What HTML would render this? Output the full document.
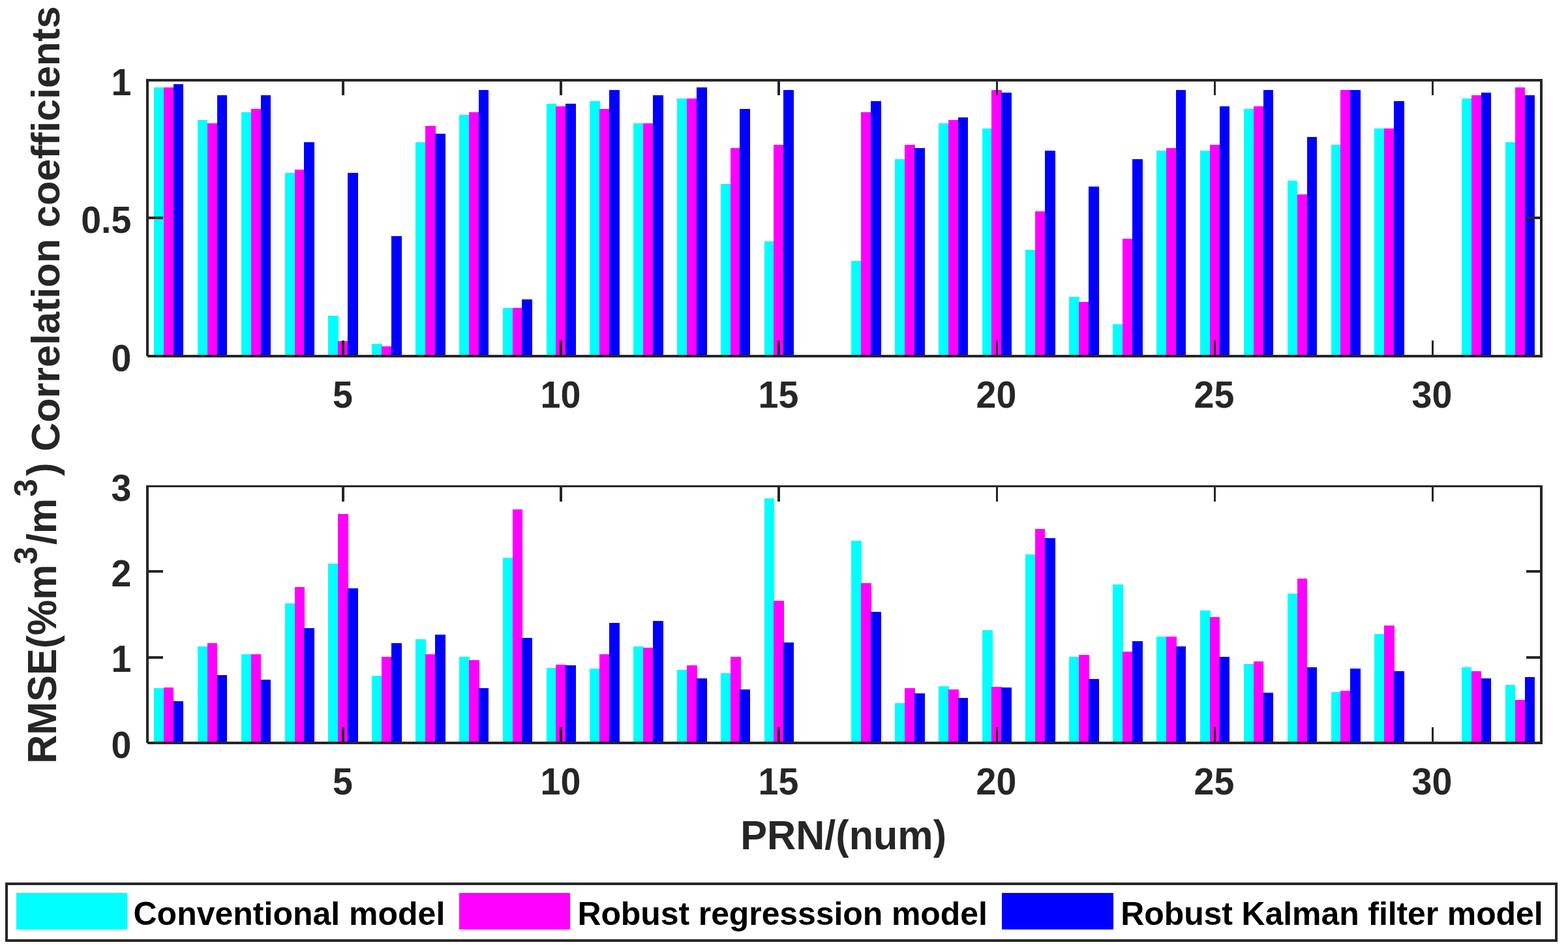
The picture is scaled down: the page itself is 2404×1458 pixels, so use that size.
<!DOCTYPE html>
<html lang="en"><head><meta charset="utf-8"><title>Correlation coefficients and RMSE per PRN</title>
<style>html,body{margin:0;padding:0;background:#fff;overflow:hidden}svg{display:block}text{font-family:"Liberation Sans",Arial,Helvetica,sans-serif;font-weight:bold;font-kerning:none;font-variant-ligatures:none;white-space:pre}.t{font-size:55.56px;fill:#262626}.l{font-size:61.11px;fill:#262626}.g{font-size:50px;fill:#000}</style></head><body>
<svg width="2404" height="1458" viewBox="0 0 2404 1458">
<rect x="0" y="0" width="2404" height="1458" fill="#fff"/>
<g fill="#00ffff" shape-rendering="crispEdges">
<rect x="236" y="134" width="15" height="410"/>
<rect x="303" y="184" width="15" height="360"/>
<rect x="370" y="172" width="15" height="372"/>
<rect x="437" y="265" width="15" height="279"/>
<rect x="503" y="484" width="16" height="60"/>
<rect x="570" y="527" width="16" height="17"/>
<rect x="637" y="218" width="16" height="326"/>
<rect x="704" y="176" width="16" height="368"/>
<rect x="771" y="472" width="15" height="72"/>
<rect x="838" y="159" width="15" height="385"/>
<rect x="904" y="155" width="16" height="389"/>
<rect x="971" y="189" width="16" height="355"/>
<rect x="1038" y="151" width="15" height="393"/>
<rect x="1105" y="282" width="15" height="262"/>
<rect x="1172" y="370" width="15" height="174"/>
<rect x="1305" y="400" width="16" height="144"/>
<rect x="1372" y="244" width="15" height="300"/>
<rect x="1439" y="189" width="16" height="355"/>
<rect x="1506" y="197" width="16" height="347"/>
<rect x="1572" y="383" width="15" height="161"/>
<rect x="1639" y="455" width="16" height="89"/>
<rect x="1706" y="497" width="16" height="47"/>
<rect x="1773" y="231" width="15" height="313"/>
<rect x="1840" y="231" width="16" height="313"/>
<rect x="1907" y="167" width="15" height="377"/>
<rect x="1974" y="277" width="15" height="267"/>
<rect x="2041" y="222" width="14" height="322"/>
<rect x="2107" y="197" width="15" height="347"/>
<rect x="2241" y="151" width="15" height="393"/>
<rect x="2308" y="218" width="15" height="326"/>
</g>
<g fill="#ff00ff" shape-rendering="crispEdges">
<rect x="251" y="134" width="15" height="410"/>
<rect x="318" y="189" width="15" height="355"/>
<rect x="385" y="167" width="15" height="377"/>
<rect x="452" y="260" width="15" height="284"/>
<rect x="518" y="523" width="16" height="21"/>
<rect x="585" y="531" width="15" height="13"/>
<rect x="652" y="193" width="16" height="351"/>
<rect x="719" y="172" width="16" height="372"/>
<rect x="786" y="472" width="15" height="72"/>
<rect x="852" y="163" width="16" height="381"/>
<rect x="919" y="167" width="15" height="377"/>
<rect x="986" y="189" width="15" height="355"/>
<rect x="1053" y="151" width="16" height="393"/>
<rect x="1120" y="227" width="16" height="317"/>
<rect x="1186" y="222" width="16" height="322"/>
<rect x="1320" y="172" width="16" height="372"/>
<rect x="1387" y="222" width="16" height="322"/>
<rect x="1454" y="184" width="16" height="360"/>
<rect x="1520" y="138" width="16" height="406"/>
<rect x="1587" y="324" width="15" height="220"/>
<rect x="1654" y="463" width="16" height="81"/>
<rect x="1721" y="366" width="15" height="178"/>
<rect x="1788" y="227" width="16" height="317"/>
<rect x="1855" y="222" width="15" height="322"/>
<rect x="1922" y="163" width="15" height="381"/>
<rect x="1989" y="298" width="15" height="246"/>
<rect x="2055" y="138" width="15" height="406"/>
<rect x="2122" y="197" width="16" height="347"/>
<rect x="2256" y="146" width="15" height="398"/>
<rect x="2323" y="134" width="15" height="410"/>
</g>
<g fill="#0000ff" shape-rendering="crispEdges">
<rect x="266" y="129" width="15" height="415"/>
<rect x="333" y="146" width="15" height="398"/>
<rect x="400" y="146" width="15" height="398"/>
<rect x="466" y="218" width="16" height="326"/>
<rect x="533" y="265" width="16" height="279"/>
<rect x="600" y="362" width="16" height="182"/>
<rect x="667" y="205" width="16" height="339"/>
<rect x="734" y="138" width="15" height="406"/>
<rect x="800" y="459" width="16" height="85"/>
<rect x="867" y="159" width="16" height="385"/>
<rect x="934" y="138" width="16" height="406"/>
<rect x="1001" y="146" width="16" height="398"/>
<rect x="1068" y="134" width="16" height="410"/>
<rect x="1134" y="167" width="16" height="377"/>
<rect x="1201" y="138" width="16" height="406"/>
<rect x="1335" y="155" width="16" height="389"/>
<rect x="1402" y="227" width="16" height="317"/>
<rect x="1469" y="180" width="15" height="364"/>
<rect x="1535" y="142" width="16" height="402"/>
<rect x="1602" y="231" width="16" height="313"/>
<rect x="1669" y="286" width="16" height="258"/>
<rect x="1736" y="244" width="16" height="300"/>
<rect x="1803" y="138" width="15" height="406"/>
<rect x="1870" y="163" width="15" height="381"/>
<rect x="1937" y="138" width="15" height="406"/>
<rect x="2004" y="210" width="15" height="334"/>
<rect x="2070" y="138" width="16" height="406"/>
<rect x="2137" y="155" width="16" height="389"/>
<rect x="2271" y="142" width="15" height="402"/>
<rect x="2338" y="146" width="15" height="398"/>
</g>
<g fill="#262626" shape-rendering="crispEdges">
<rect x="224" y="121" width="2141" height="4"/>
<rect x="226" y="544" width="2139" height="4"/>
<rect x="224" y="121" width="4" height="425"/>
<rect x="2361" y="121" width="4" height="427"/>
<rect x="524" y="125" width="4" height="21"/>
<rect x="524" y="522" width="4" height="22"/>
<rect x="858" y="125" width="4" height="21"/>
<rect x="858" y="522" width="4" height="22"/>
<rect x="1192" y="125" width="4" height="21"/>
<rect x="1192" y="522" width="4" height="22"/>
<rect x="1527" y="125" width="3" height="21"/>
<rect x="1527" y="522" width="3" height="22"/>
<rect x="1861" y="125" width="3" height="21"/>
<rect x="1861" y="522" width="3" height="22"/>
<rect x="2195" y="125" width="3" height="21"/>
<rect x="2195" y="522" width="3" height="22"/>
<rect x="228" y="332" width="22" height="4"/>
<rect x="2340" y="332" width="21" height="4"/>
</g>
<g fill="#00ffff" shape-rendering="crispEdges">
<rect x="236" y="1055" width="15" height="82"/>
<rect x="303" y="991" width="15" height="146"/>
<rect x="370" y="1003" width="15" height="134"/>
<rect x="437" y="925" width="15" height="212"/>
<rect x="503" y="864" width="16" height="273"/>
<rect x="570" y="1036" width="16" height="101"/>
<rect x="637" y="980" width="16" height="157"/>
<rect x="704" y="1007" width="16" height="130"/>
<rect x="771" y="855" width="15" height="282"/>
<rect x="838" y="1024" width="15" height="113"/>
<rect x="904" y="1025" width="16" height="112"/>
<rect x="971" y="991" width="16" height="146"/>
<rect x="1038" y="1027" width="15" height="110"/>
<rect x="1105" y="1032" width="15" height="105"/>
<rect x="1172" y="764" width="15" height="373"/>
<rect x="1305" y="829" width="16" height="308"/>
<rect x="1372" y="1078" width="15" height="59"/>
<rect x="1439" y="1052" width="16" height="85"/>
<rect x="1506" y="966" width="16" height="171"/>
<rect x="1572" y="850" width="15" height="287"/>
<rect x="1639" y="1007" width="16" height="130"/>
<rect x="1706" y="896" width="16" height="241"/>
<rect x="1773" y="976" width="15" height="161"/>
<rect x="1840" y="936" width="16" height="201"/>
<rect x="1907" y="1018" width="15" height="119"/>
<rect x="1974" y="910" width="15" height="227"/>
<rect x="2041" y="1061" width="14" height="76"/>
<rect x="2107" y="972" width="15" height="165"/>
<rect x="2241" y="1023" width="15" height="114"/>
<rect x="2308" y="1050" width="15" height="87"/>
</g>
<g fill="#ff00ff" shape-rendering="crispEdges">
<rect x="251" y="1054" width="15" height="83"/>
<rect x="318" y="986" width="15" height="151"/>
<rect x="385" y="1003" width="15" height="134"/>
<rect x="452" y="900" width="15" height="237"/>
<rect x="518" y="788" width="16" height="349"/>
<rect x="585" y="1007" width="15" height="130"/>
<rect x="652" y="1003" width="16" height="134"/>
<rect x="719" y="1012" width="16" height="125"/>
<rect x="786" y="781" width="15" height="356"/>
<rect x="852" y="1019" width="16" height="118"/>
<rect x="919" y="1003" width="15" height="134"/>
<rect x="986" y="993" width="15" height="144"/>
<rect x="1053" y="1020" width="16" height="117"/>
<rect x="1120" y="1007" width="16" height="130"/>
<rect x="1186" y="921" width="16" height="216"/>
<rect x="1320" y="894" width="16" height="243"/>
<rect x="1387" y="1055" width="16" height="82"/>
<rect x="1454" y="1057" width="16" height="80"/>
<rect x="1520" y="1053" width="16" height="84"/>
<rect x="1587" y="811" width="15" height="326"/>
<rect x="1654" y="1004" width="16" height="133"/>
<rect x="1721" y="999" width="15" height="138"/>
<rect x="1788" y="976" width="16" height="161"/>
<rect x="1855" y="946" width="15" height="191"/>
<rect x="1922" y="1014" width="15" height="123"/>
<rect x="1989" y="887" width="15" height="250"/>
<rect x="2055" y="1059" width="15" height="78"/>
<rect x="2122" y="959" width="16" height="178"/>
<rect x="2256" y="1029" width="15" height="108"/>
<rect x="2323" y="1073" width="15" height="64"/>
</g>
<g fill="#0000ff" shape-rendering="crispEdges">
<rect x="266" y="1075" width="15" height="62"/>
<rect x="333" y="1035" width="15" height="102"/>
<rect x="400" y="1042" width="15" height="95"/>
<rect x="466" y="963" width="16" height="174"/>
<rect x="533" y="902" width="16" height="235"/>
<rect x="600" y="986" width="16" height="151"/>
<rect x="667" y="973" width="16" height="164"/>
<rect x="734" y="1055" width="15" height="82"/>
<rect x="800" y="978" width="16" height="159"/>
<rect x="867" y="1020" width="16" height="117"/>
<rect x="934" y="955" width="16" height="182"/>
<rect x="1001" y="952" width="16" height="185"/>
<rect x="1068" y="1040" width="16" height="97"/>
<rect x="1134" y="1057" width="16" height="80"/>
<rect x="1201" y="985" width="16" height="152"/>
<rect x="1335" y="938" width="16" height="199"/>
<rect x="1402" y="1063" width="16" height="74"/>
<rect x="1469" y="1070" width="15" height="67"/>
<rect x="1535" y="1054" width="16" height="83"/>
<rect x="1602" y="825" width="16" height="312"/>
<rect x="1669" y="1041" width="16" height="96"/>
<rect x="1736" y="983" width="16" height="154"/>
<rect x="1803" y="991" width="15" height="146"/>
<rect x="1870" y="1007" width="15" height="130"/>
<rect x="1937" y="1062" width="15" height="75"/>
<rect x="2004" y="1023" width="15" height="114"/>
<rect x="2070" y="1025" width="16" height="112"/>
<rect x="2137" y="1029" width="16" height="108"/>
<rect x="2271" y="1040" width="15" height="97"/>
<rect x="2338" y="1038" width="15" height="99"/>
</g>
<g fill="#262626" shape-rendering="crispEdges">
<rect x="224" y="744" width="2141" height="3"/>
<rect x="226" y="1137" width="2139" height="4"/>
<rect x="224" y="744" width="4" height="395"/>
<rect x="2361" y="744" width="4" height="397"/>
<rect x="524" y="747" width="4" height="22"/>
<rect x="524" y="1115" width="4" height="22"/>
<rect x="858" y="747" width="4" height="22"/>
<rect x="858" y="1115" width="4" height="22"/>
<rect x="1192" y="747" width="4" height="22"/>
<rect x="1192" y="1115" width="4" height="22"/>
<rect x="1527" y="747" width="3" height="22"/>
<rect x="1527" y="1115" width="3" height="22"/>
<rect x="1861" y="747" width="3" height="22"/>
<rect x="1861" y="1115" width="3" height="22"/>
<rect x="2195" y="747" width="3" height="22"/>
<rect x="2195" y="1115" width="3" height="22"/>
<rect x="228" y="874" width="22" height="4"/>
<rect x="2340" y="874" width="21" height="4"/>
<rect x="228" y="1006" width="22" height="4"/>
<rect x="2340" y="1006" width="21" height="4"/>
</g>
<text class="t" transform="translate(170.50 145.70) scale(1 1.0405)">1</text>
<text class="t" transform="translate(124.16 357.00) scale(1 1.0405)">0.5</text>
<text class="t" transform="translate(170.50 568.70) scale(1 1.0405)">0</text>
<text class="t" transform="translate(170.50 768.30) scale(1 1.0405)">3</text>
<text class="t" transform="translate(170.50 898.70) scale(1 1.0405)">2</text>
<text class="t" transform="translate(170.50 1030.30) scale(1 1.0405)">1</text>
<text class="t" transform="translate(170.50 1161.70) scale(1 1.0405)">0</text>
<text class="t" transform="translate(510.05 625.40) scale(1 1.0405)">5</text>
<text class="t" transform="translate(828.60 625.40) scale(1 1.0405)">10</text>
<text class="t" transform="translate(1162.60 625.40) scale(1 1.0405)">15</text>
<text class="t" transform="translate(1496.60 625.40) scale(1 1.0405)">20</text>
<text class="t" transform="translate(1830.60 625.40) scale(1 1.0405)">25</text>
<text class="t" transform="translate(2164.60 625.40) scale(1 1.0405)">30</text>
<text class="t" transform="translate(510.05 1218.10) scale(1 1.0405)">5</text>
<text class="t" transform="translate(828.60 1218.10) scale(1 1.0405)">10</text>
<text class="t" transform="translate(1162.60 1218.10) scale(1 1.0405)">15</text>
<text class="t" transform="translate(1496.60 1218.10) scale(1 1.0405)">20</text>
<text class="t" transform="translate(1830.60 1218.10) scale(1 1.0405)">25</text>
<text class="t" transform="translate(2164.60 1218.10) scale(1 1.0405)">30</text>
<text class="l" transform="translate(1135.35 1301.50) scale(1 1.02)">PRN/(num)</text>
<text class="l" transform="translate(91.00 692.00) rotate(-90)">Correlation coefficients</text>
<text class="l" transform="translate(86.30 1170.80) rotate(-90) scale(1 1.03)">RMSE(%m<tspan dy="-28.54" dx="0" font-size="48.9">3</tspan><tspan dy="28.54" dx="3">/m</tspan><tspan dy="-28.54" dx="2.4" font-size="48.9">3</tspan><tspan dy="28.54" dx="4.5">)</tspan></text>
<g fill="#262626" shape-rendering="crispEdges">
<rect x="8" y="1353" width="2380" height="4"/><rect x="8" y="1440" width="2380" height="4"/>
<rect x="8" y="1353" width="4" height="91"/><rect x="2384" y="1353" width="4" height="91"/></g>
<g shape-rendering="crispEdges">
<rect x="25" y="1369" width="170" height="56" fill="#00ffff"/>
<rect x="704" y="1369" width="170" height="56" fill="#ff00ff"/>
<rect x="1536" y="1369" width="171" height="56" fill="#0000ff"/>
</g>
<text class="g" transform="translate(204.50 1417.80)">Conventional model</text>
<text class="g" transform="translate(885.40 1417.80)" style="letter-spacing:-0.1px">Robust regresssion model</text>
<text class="g" transform="translate(1718.30 1417.80)" style="letter-spacing:-0.11px">Robust Kalman filter model</text>
</svg></body></html>
